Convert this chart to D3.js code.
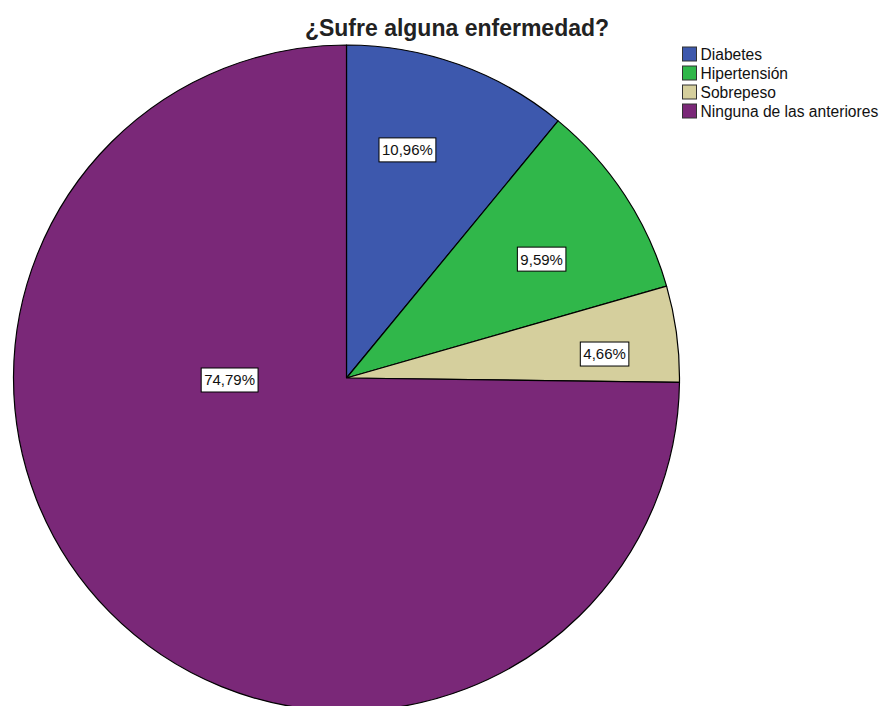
<!DOCTYPE html>
<html>
<head>
<meta charset="utf-8">
<script src="https://cdn.jsdelivr.net/npm/d3@7"></script>
<style>
  html, body { margin: 0; padding: 0; background: #fff; }
  svg { display: block; }
  text { font-family: "Liberation Sans", Arial, sans-serif; }
</style>
</head>
<body>
<svg id="chart" width="880" height="706"></svg>
<script>
// Survey answers: "¿Sufre alguna enfermedad?"
const categories = ["Diabetes", "Hipertensión", "Sobrepeso", "Ninguna de las anteriores"];
const percentages = [10.96, 9.59, 4.66, 74.79];
const valueLabels = ["10,96%", "9,59%", "4,66%", "74,79%"];
const sliceColors = ["#3d58ad", "#30b74a", "#d5cf9d", "#7a2878"];
const chartTitle = "¿Sufre alguna enfermedad?";

// Label anchors, as offsets from the pie centre in units of the radius
const labelOffsets = [[0.183, -0.685], [0.586, -0.357], [0.775, -0.072], [-0.351, 0.006]];

const svg = d3.select("#chart");
const cx = 346.5, cy = 378, radius = 333;

const data = categories.map((c, i) => ({ name: c, value: percentages[i], label: valueLabels[i], color: sliceColors[i], off: labelOffsets[i] }));

const pie = d3.pie().sort(null).value(d => d.value);
const arc = d3.arc().innerRadius(0).outerRadius(radius);

const g = svg.append("g").attr("transform", `translate(${cx},${cy})`);

g.selectAll("path.slice")
  .data(pie(data))
  .join("path")
  .attr("class", "slice")
  .attr("d", arc)
  .attr("fill", d => d.data.color)
  .attr("stroke", "#000")
  .attr("stroke-width", 1.2)
  .attr("stroke-linejoin", "round");

// Value labels in white boxes
const labels = g.selectAll("g.vlabel")
  .data(pie(data))
  .join("g")
  .attr("class", "vlabel")
  .attr("transform", d => `translate(${d.data.off[0] * radius},${d.data.off[1] * radius})`);

labels.append("text")
  .attr("text-anchor", "middle")
  .attr("dy", "0.36em")
  .attr("font-size", 15)
  .attr("fill", "#111")
  .text(d => d.data.label)
  .each(function () {
    const b = this.getBBox();
    d3.select(this.parentNode).insert("rect", "text")
      .attr("x", b.x - 3)
      .attr("y", -12)
      .attr("width", b.width + 6)
      .attr("height", 24)
      .attr("fill", "#fff")
      .attr("stroke", "#000")
      .attr("stroke-width", 1);
  });

// Title
svg.append("text")
  .attr("x", 457)
  .attr("y", 36)
  .attr("text-anchor", "middle")
  .attr("font-size", 23)
  .attr("font-weight", "bold")
  .attr("fill", "#222")
  .text(chartTitle);

// Legend
const legend = svg.append("g").attr("transform", "translate(682,46.5)");
const rowStep = 19;
const rows = legend.selectAll("g.row")
  .data(data)
  .join("g")
  .attr("class", "row")
  .attr("transform", (d, i) => `translate(0,${i * rowStep})`);

rows.append("rect")
  .attr("x", 0.5).attr("y", 0.5)
  .attr("width", 14).attr("height", 14)
  .attr("fill", d => d.color)
  .attr("stroke", "#333")
  .attr("stroke-width", 1);

rows.append("text")
  .attr("x", 18.5)
  .attr("y", 7.5)
  .attr("dy", "0.36em")
  .attr("font-size", 15.6)
  .attr("fill", "#111")
  .text(d => d.name);
</script>
</body>
</html>
